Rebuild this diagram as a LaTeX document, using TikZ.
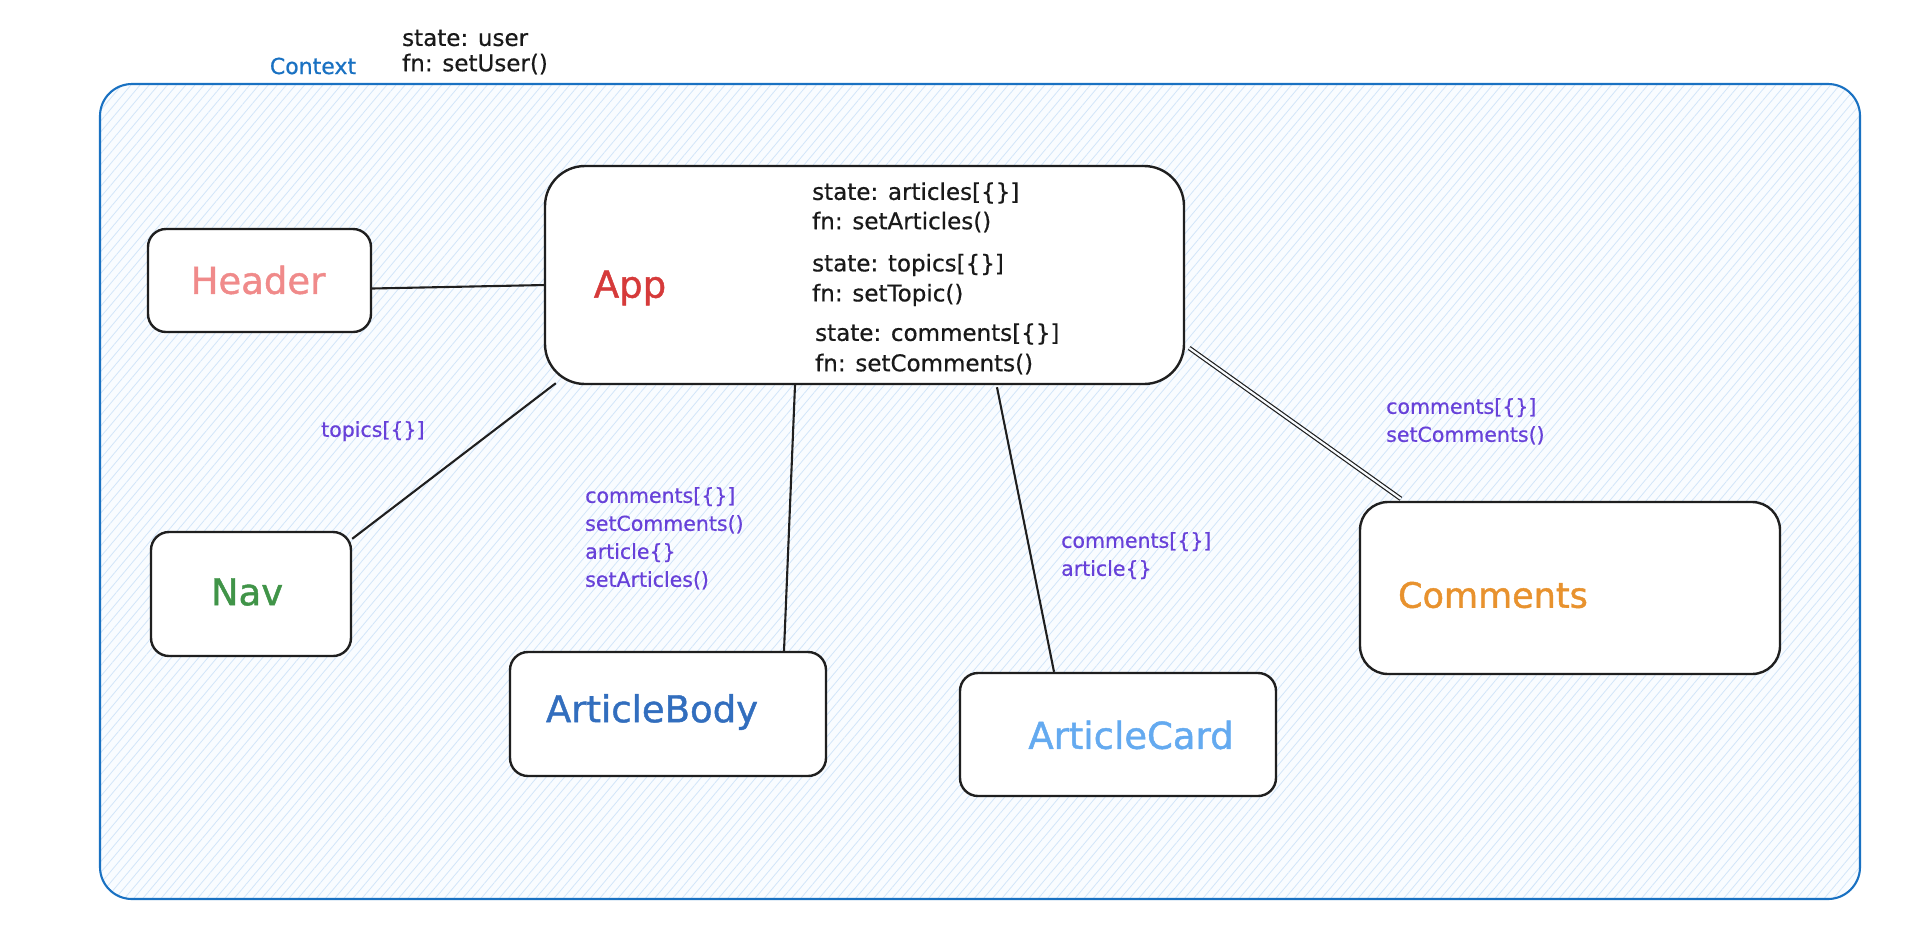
\documentclass[tikz,border=0pt]{standalone}
\usepackage{fontspec}
\setmainfont{DejaVu Sans}
\newfontfamily\handbig[FakeBold=1.2]{DejaVu Sans}
\newfontfamily\handsmall[FakeBold=0.6]{DejaVu Sans}
\usetikzlibrary{calc,patterns.meta}
\definecolor{ctxblue}{RGB}{25,113,194}
\definecolor{hatch}{RGB}{210,229,249}
\definecolor{hatchbg}{RGB}{249,252,255}
\definecolor{lblpurple}{RGB}{103,65,217}
\definecolor{hdrred}{RGB}{240,138,138}
\definecolor{appred}{RGB}{214,58,58}
\definecolor{navgreen}{RGB}{64,148,72}
\definecolor{abblue}{RGB}{50,110,190}
\definecolor{acblue}{RGB}{100,170,240}
\definecolor{cmorange}{RGB}{232,146,46}
\tikzset{
  compbox/.style={draw=black!88, line width=2.4pt, fill=white, rounded corners=18pt, inner sep=0pt},
  bigtxt/.style={font=\handbig\fontsize{37}{42}\selectfont, inner sep=0pt},
  smalltxt/.style={font=\handsmall\fontsize{23}{29}\selectfont, anchor=west, inner sep=0pt, align=left, text=black!90},
  proptxt/.style={font=\handsmall\fontsize{20.5}{28}\selectfont, anchor=north west, inner sep=0pt, align=left, text=lblpurple},
  conn/.style={draw=black!88, line width=2.1pt},
}
\begin{document}
\begin{tikzpicture}[x=1pt,y=-1pt]
\useasboundingbox (0,0) rectangle (1912,938);
% context container
\node[draw=none, fill=hatchbg, rounded corners=32pt, minimum width=1760pt, minimum height=815pt, inner sep=0pt] (ctxbg) at (980,491.5) {};
\node[draw=ctxblue, line width=2.1pt, pattern={Lines[angle=50,distance=7pt,line width=0.8pt]}, pattern color=hatch, rounded corners=32pt, minimum width=1760pt, minimum height=815pt, inner sep=0pt] (ctx) at (980,491.5) {};
\node[font=\handsmall\fontsize{22}{26}\selectfont, text=ctxblue, inner sep=0pt] (ctxlbl) at (313,66) {Context};
\node[smalltxt] (ctxstate) at (402,38) {state: user};
\node[smalltxt] (ctxfn) at (402,64) {fn: setUser()};

% boxes
\node[compbox, minimum width=223pt, minimum height=103pt] (header) at (259.5,280.5) {};
\node[compbox, rounded corners=40pt, minimum width=639pt, minimum height=218pt] (app) at (864.5,275) {};
\node[compbox, minimum width=200pt, minimum height=124pt] (nav) at (251,594) {};
\node[compbox, minimum width=316pt, minimum height=124pt] (abody) at (668,714) {};
\node[compbox, minimum width=316pt, minimum height=123pt] (acard) at (1118,734.5) {};
\node[compbox, rounded corners=28pt, minimum width=420pt, minimum height=172pt] (comments) at (1570,588) {};

% box labels
\node[bigtxt, text=hdrred] (headerlbl) at (258,280) {Header};
\node[bigtxt, text=appred] (applbl) at (630,288) {App};
\node[bigtxt, text=navgreen] (navlbl) at (247,592) {Nav};
\node[bigtxt, text=abblue] (abodylbl) at (652,712) {ArticleBody};
\node[bigtxt, text=acblue] (acardlbl) at (1131,735) {ArticleCard};
\node[bigtxt, font=\handbig\fontsize{35}{40}\selectfont, text=cmorange] (commentslbl) at (1493,595) {Comments};

% app state
\node[smalltxt] (s1) at (812,193) {state: articles[\{\}]};
\node[smalltxt] (f1) at (812,222) {fn: setArticles()};
\node[smalltxt] (s2) at (812,265) {state: topics[\{\}]};
\node[smalltxt] (f2) at (812,295) {fn: setTopic()};
\node[smalltxt] (s3) at (815,334) {state: comments[\{\}]};
\node[smalltxt] (f3) at (815,364) {fn: setComments()};

% connectors
\draw[conn] ($(header.east)+(0,8)$) -- ($(app.west)+(2,10)$);
\draw[conn] ($(app.south west)+(12,-2)$) -- ($(nav.north east)+(0,8)$);
\draw[conn] ($(app.south)+(-69.5,0)$) -- ($(abody.north)+(116,0)$);
\draw[conn] ($(app.south)+(132.5,2)$) -- ($(acard.north)+(-64,0)$);
\draw[draw=black!88, line width=1.2pt, double=hatchbg, double distance=2.2pt] ($(app.east)+(4,73)$) -- ($(comments.north west)+(42,-2)$);

% prop labels
\node[proptxt] (p1) at (321,421) {topics[\{\}]};
\node[proptxt] (p2) at (585,487) {comments[\{\}]\\setComments()\\article\{\}\\setArticles()};
\node[proptxt] (p3) at (1061,532) {comments[\{\}]\\article\{\}};
\node[proptxt] (p4) at (1386,398) {comments[\{\}]\\setComments()};
\end{tikzpicture}
\end{document}
